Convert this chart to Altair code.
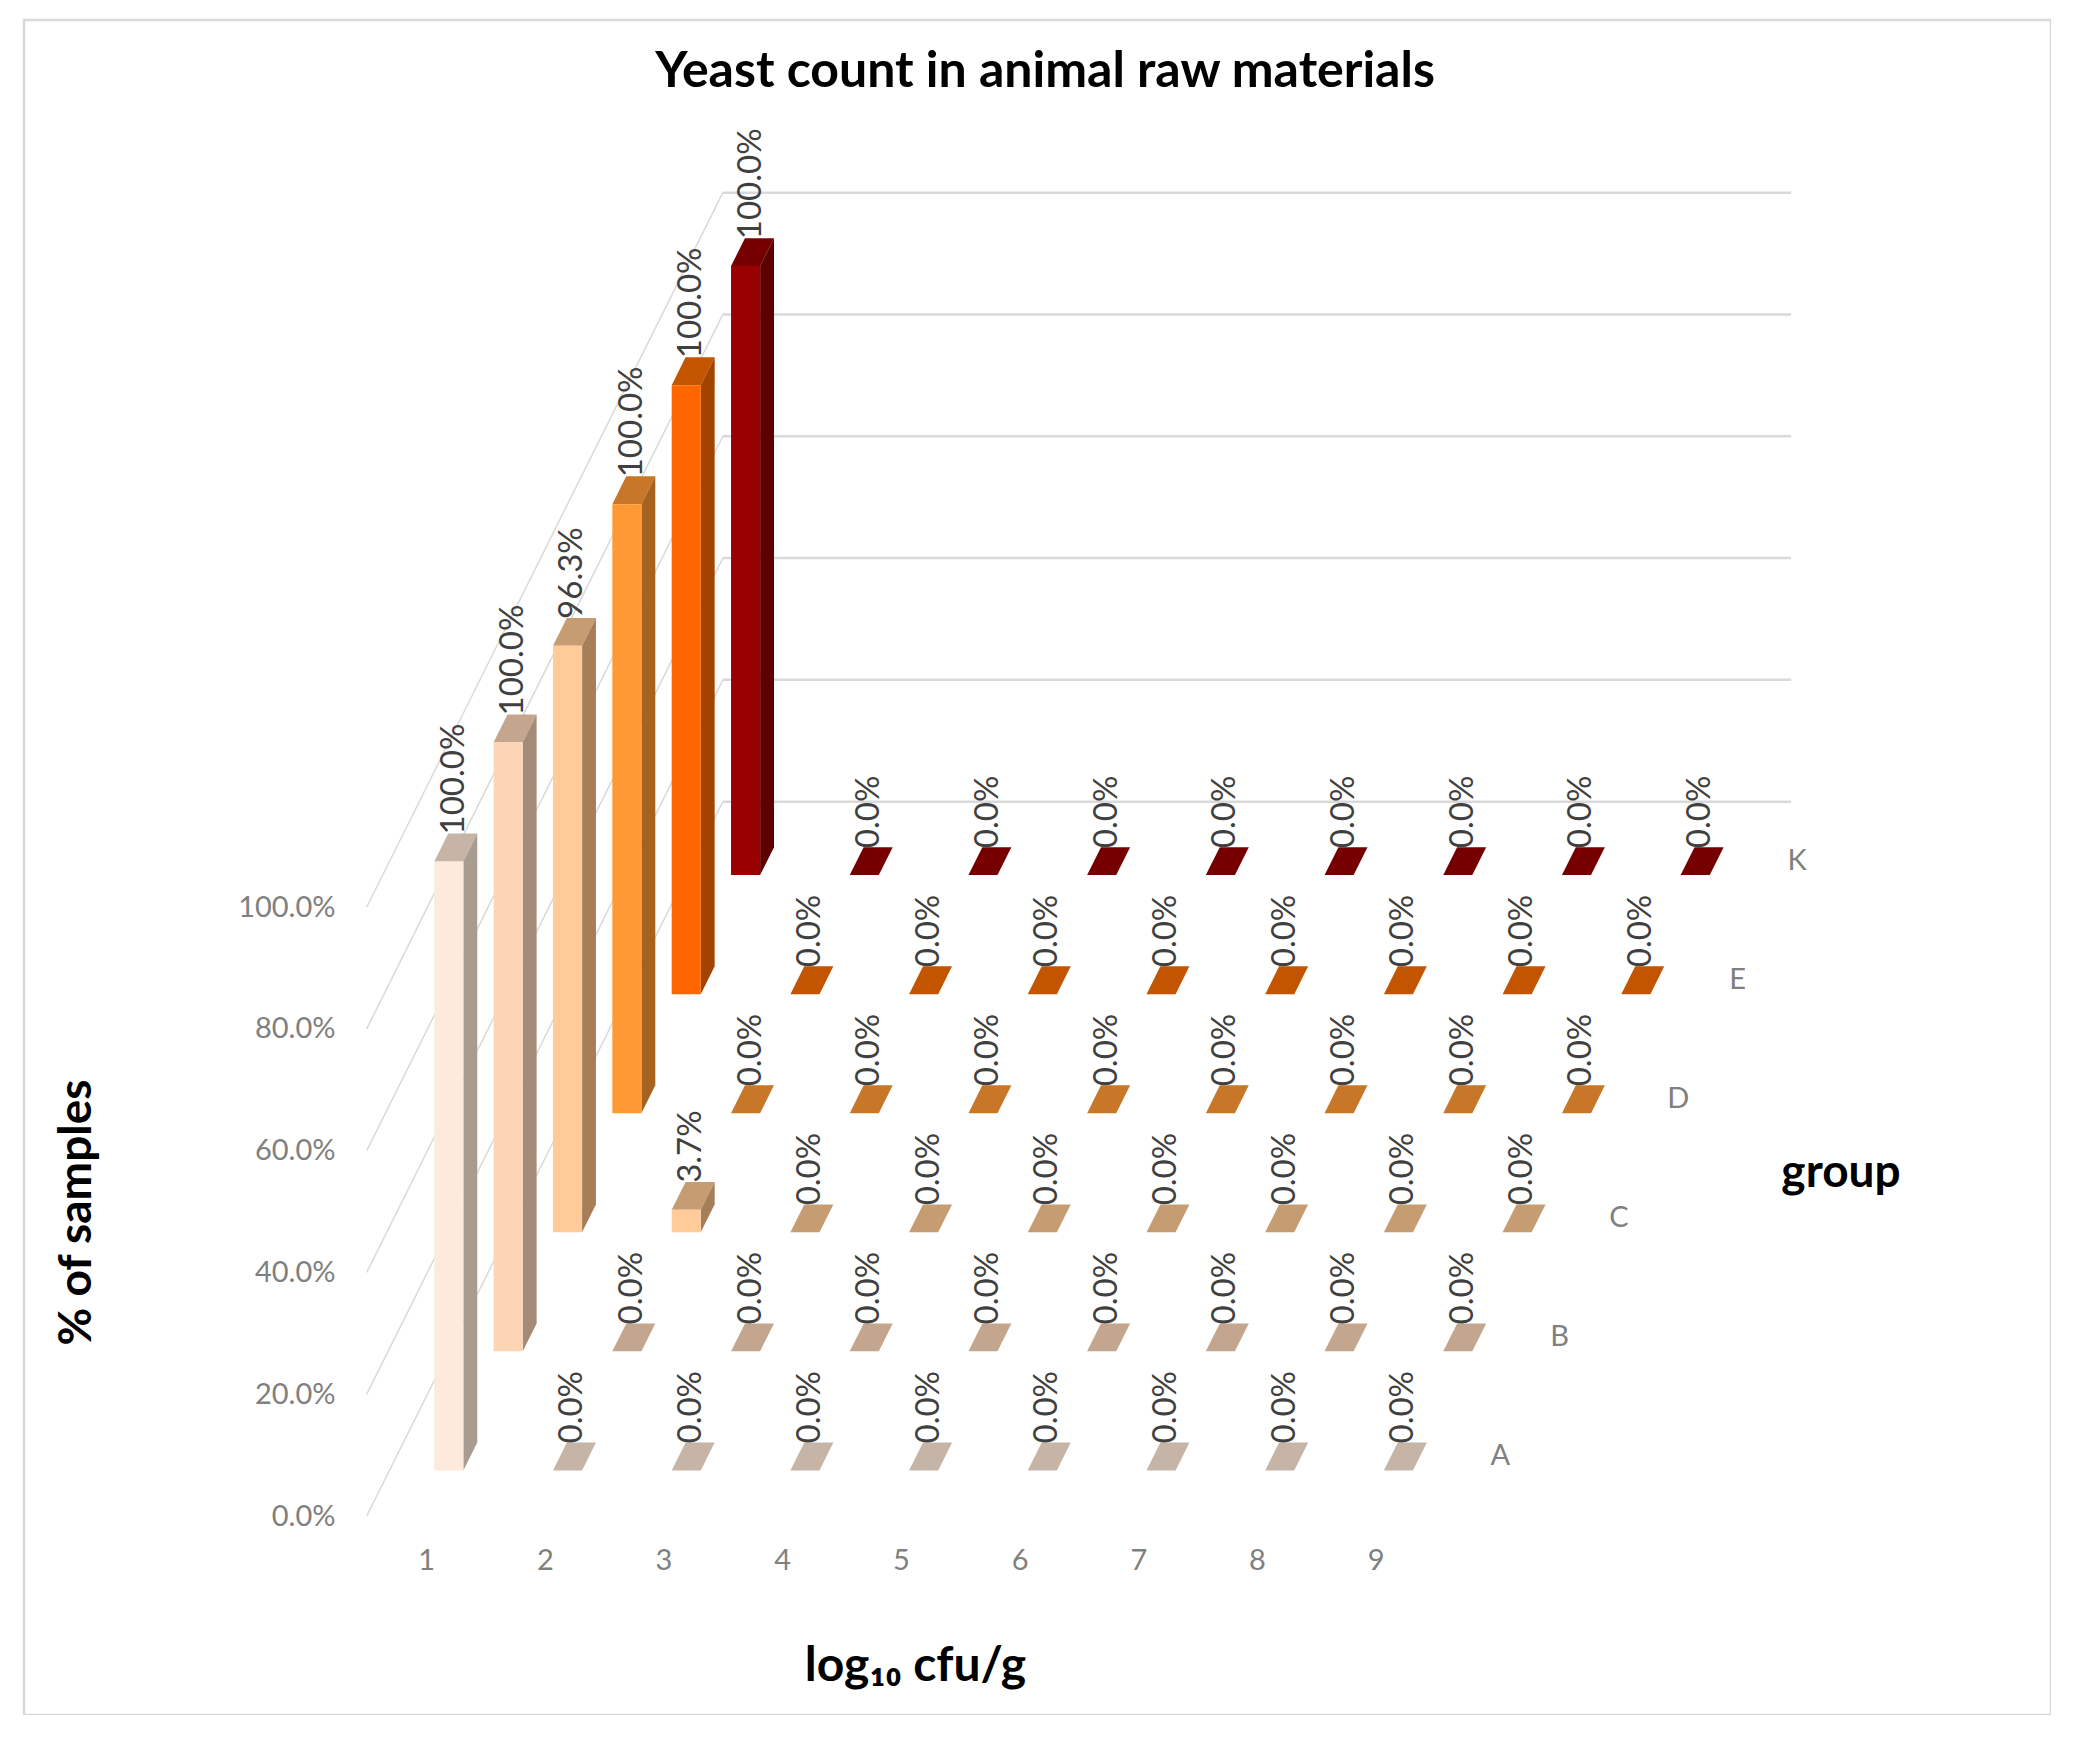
import altair as alt
import pandas as pd

# ---------------- data ----------------
GROUPS = ["A", "B", "C", "D", "E", "K"]
CATEGORIES = [1, 2, 3, 4, 5, 6, 7, 8, 9]
A_VALUES = [100.0, 0, 0, 0, 0, 0, 0, 0, 0]
B_VALUES = [100.0, 0, 0, 0, 0, 0, 0, 0, 0]
C_VALUES = [96.3, 3.7, 0, 0, 0, 0, 0, 0, 0]
D_VALUES = [100.0, 0, 0, 0, 0, 0, 0, 0, 0]
E_VALUES = [100.0, 0, 0, 0, 0, 0, 0, 0, 0]
K_VALUES = [100.0, 0, 0, 0, 0, 0, 0, 0, 0]
Y_TICKS = [0, 20, 40, 60, 80, 100]

FRONT_COLORS = ["#FDEADA", "#FCD5B5", "#FFCC99", "#FF9933", "#FF6600", "#990000"]
SIDE_COLORS = ["#A89B8F", "#A38B78", "#A67F5A", "#A6631F", "#A34300", "#5C0000"]
TOP_COLORS = ["#C6B5A6", "#C4A68E", "#C69D73", "#C77727", "#C45500", "#760000"]

# ---------------- layout constants (pseudo-3D projection) ----------------
W, H = 2027, 1695            # view = bordered chart area
PX_PER_CAT = 118.7
PX_PER_PCT = 6.09
CAT1_X = 426.1 - 24          # view x of category 1 at front plane
ZERO_Y = 1516 - 20           # view y of 0% at front plane
DXR = 0.5                    # category units per depth row
DYR = 19.55                  # percent units per depth row
BW = 0.245                   # bar width (category units)
BD = 0.234                   # bar depth (rows)
NROWS = len(GROUPS)
FLOOR_L, FLOOR_R = 0.5, 9.5
LABEL_C = 9.8

x_lo = 1 - CAT1_X / PX_PER_CAT
x_hi = x_lo + W / PX_PER_CAT
y_hi = ZERO_Y / PX_PER_PCT
y_lo = y_hi - H / PX_PER_PCT

XS = alt.Scale(domain=[x_lo, x_hi], nice=False, zero=False)
YS = alt.Scale(domain=[y_lo, y_hi], nice=False, zero=False)

FONT = "Lato"
X_AX = alt.Axis(values=CATEGORIES, format="d", domain=False, ticks=False, tickSize=0,
                grid=False, labelPadding=0, offset=-155, labelBaseline="middle",
                labelAngle=0, labelFont=FONT, labelFontSize=29, labelColor="#808080",
                labelOverlap=False,
                title="log₁₀ cfu/g", titleX=891, titleY=120, titleBaseline="alphabetic",
                titleAlign="center", titleFont=FONT, titleFontSize=48,
                titleFontWeight="bold", titleColor="#000000")
Y_AX = alt.Axis(values=Y_TICKS, labelExpr="format(datum.value, '.1f') + '%'",
                domain=False, ticks=False, tickSize=0, grid=False, labelPadding=0,
                offset=-(335 - 24), labelAlign="right", labelBaseline="middle",
                labelFont=FONT, labelFontSize=29, labelColor="#808080", labelOverlap=False,
                title="% of samples", titleX=52 - 311, titleY=1192, titleAngle=270,
                titleAlign="center", titleBaseline="middle", titleFont=FONT,
                titleFontSize=46, titleFontWeight="bold", titleColor="#000000")

rows = []
for gi, (g, vals) in enumerate(zip(GROUPS, [A_VALUES, B_VALUES, C_VALUES, D_VALUES, E_VALUES, K_VALUES])):
    for c, v in zip(CATEGORIES, vals):
        rows.append({"group": g, "gi": gi, "cat": c, "value": v, "key": f"{g}-{c}"})
bars = pd.DataFrame(rows)
# two vertices (front edge k=0, back edge k=1) per slanted face
verts = bars.merge(pd.DataFrame({"k": [0, 1]}), how="cross")
grid = pd.DataFrame({"v": Y_TICKS})
glabels = pd.DataFrame({"group": GROUPS, "gi": list(range(NROWS))})

def colr(rng):
    return alt.Color("group:N", scale=alt.Scale(domain=GROUPS, range=rng), legend=None)

# ---------------- walls ----------------
back = alt.Chart(grid).transform_calculate(
    bx=f"{FLOOR_L} + {DXR}*{NROWS}", bx2=f"{FLOOR_R} + {DXR}*{NROWS}",
    by=f"datum.v + {DYR}*{NROWS}"
).mark_rule(color="#D9D9D9", strokeWidth=2.5).encode(
    x=alt.X("bx:Q", scale=XS, axis=X_AX), x2="bx2:Q",
    y=alt.Y("by:Q", scale=YS, axis=Y_AX))

left = alt.Chart(grid).transform_calculate(
    lx=f"{FLOOR_L}", lx2=f"{FLOOR_L} + {DXR}*{NROWS}",
    ly="datum.v", ly2=f"datum.v + {DYR}*{NROWS}"
).mark_rule(color="#D9D9D9", strokeWidth=1.5).encode(
    x=alt.X("lx:Q", scale=XS, axis=X_AX), x2="lx2:Q",
    y=alt.Y("ly:Q", scale=YS, axis=Y_AX), y2="ly2:Q")

# ---------------- bar faces ----------------
dfront = f"(datum.gi + 0.5 - {BD/2})"
ddepth = f"(datum.gi + 0.5 - {BD/2} + datum.k*{BD})"

front = alt.Chart(bars).transform_calculate(
    fx=f"datum.cat - {BW/2} + {DXR}*{dfront}",
    fx2=f"datum.cat + {BW/2} + {DXR}*{dfront}",
    fy=f"{DYR}*{dfront}",
    fy2=f"datum.value + {DYR}*{dfront}",
).mark_rect().encode(
    x=alt.X("fx:Q", scale=XS, axis=X_AX), x2="fx2:Q",
    y=alt.Y("fy:Q", scale=YS, axis=Y_AX), y2="fy2:Q",
    color=colr(FRONT_COLORS))

side = alt.Chart(verts).transform_calculate(
    sx=f"datum.cat + {BW/2} + {DXR}*{ddepth}",
    sy=f"{DYR}*{ddepth}",
    sy2=f"datum.value + {DYR}*{ddepth}",
).mark_area(orient="vertical").encode(
    x=alt.X("sx:Q", scale=XS, axis=X_AX),
    y=alt.Y("sy:Q", scale=YS, axis=Y_AX, stack=None), y2="sy2:Q",
    detail="key:N",
    color=colr(SIDE_COLORS))

top = alt.Chart(verts).transform_calculate(
    tx=f"datum.cat - {BW/2} + {DXR}*{ddepth}",
    tx2=f"datum.cat + {BW/2} + {DXR}*{ddepth}",
    ty=f"datum.value + {DYR}*{ddepth}",
).mark_area(orient="horizontal").encode(
    y=alt.Y("ty:Q", scale=YS, axis=Y_AX),
    x=alt.X("tx:Q", scale=XS, axis=X_AX, stack=None), x2="tx2:Q",
    detail="key:N",
    color=colr(TOP_COLORS))

# ---------------- labels ----------------
# rotated text: dx runs along the reading direction (upwards), dy sideways
vlabels = alt.Chart(bars).transform_calculate(
    lx=f"datum.cat + {DXR}*(datum.gi + 0.5)",
    ly=f"datum.value + {DYR}*(datum.gi + 0.5)",
    txt="format(datum.value, '.1f') + '%'",
).mark_text(angle=270, align="left", baseline="middle", dx=13, dy=-2,
            font=FONT, fontSize=33, color="#404040").encode(
    x=alt.X("lx:Q", scale=XS, axis=X_AX),
    y=alt.Y("ly:Q", scale=YS, axis=Y_AX),
    text="txt:N")

gl = alt.Chart(glabels).transform_calculate(
    gx=f"{LABEL_C} + {DXR}*(datum.gi + 0.5)",
    gy=f"{DYR}*(datum.gi + 0.5)",
).mark_text(align="center", baseline="middle", font=FONT, fontSize=29,
            color="#808080").encode(
    x=alt.X("gx:Q", scale=XS, axis=X_AX),
    y=alt.Y("gy:Q", scale=YS, axis=Y_AX),
    text="group:N")

gtitle = alt.Chart(pd.DataFrame({"t": ["group"]})).mark_text(
    align="center", baseline="middle", font=FONT, fontSize=46, fontWeight="bold",
    color="#000000").encode(x=alt.value(1841 - 24), y=alt.value(1173 - 20), text="t:N")

chart = alt.layer(back, left, top, side, front, vlabels, gl, gtitle).resolve_scale(
    color="independent"
).properties(
    width=W, height=H,
    title=alt.TitleParams("Yeast count in animal raw materials", font=FONT, fontSize=50,
                          fontWeight="bold", color="#000000", anchor="middle",
                          frame="group", offset=-117, baseline="alphabetic", dx=7.5),
    autosize=alt.AutoSizeParams(type="none"),
    padding={"left": 16, "top": 12, "right": 0, "bottom": 0},
    background="#FFFFFF",
).configure_view(stroke="#D9D9D9", strokeWidth=2.5)

chart.save("out.html", embed_options={"renderer": "svg", "actions": False})
